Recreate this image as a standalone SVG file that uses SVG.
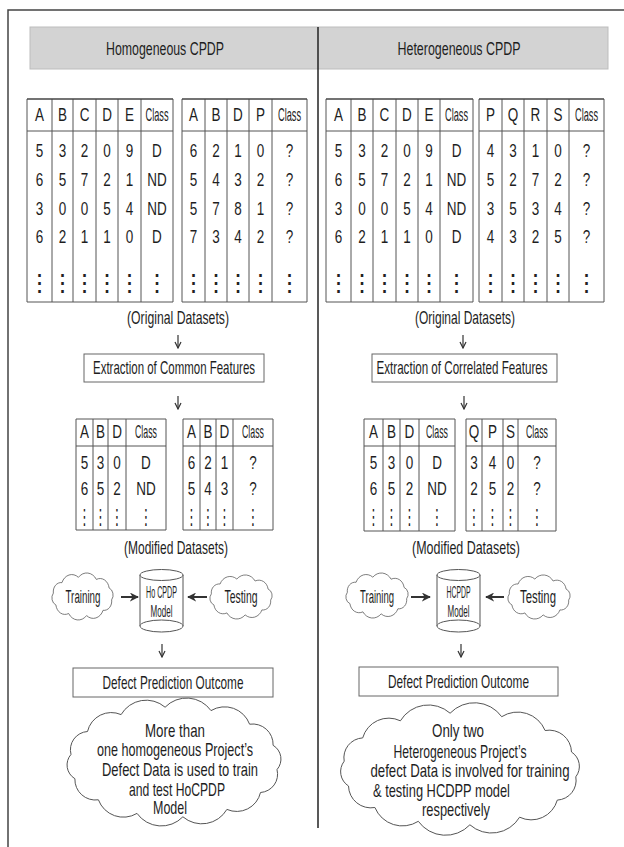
<svg xmlns="http://www.w3.org/2000/svg" xmlns:xlink="http://www.w3.org/1999/xlink" width="624" height="847" viewBox="0 0 624 847">
<style>
.t{font-family:"Liberation Sans",Arial,sans-serif;fill:#1e1e1e;text-anchor:middle}
.f19{font-size:19px}.f18{font-size:18px}.f17{font-size:17px}.f16{font-size:16px}
.dot{font-family:"DejaVu Sans",sans-serif;text-anchor:middle;fill:#222}
.tl{stroke:#555;stroke-width:1;fill:none}
.tt{stroke:#444;stroke-width:1.3;fill:none}
.box{fill:#fff;stroke:#666;stroke-width:1}
.cloud{fill:#fff;stroke:#555;stroke-width:1;vector-effect:non-scaling-stroke}
.bigcloud{fill:#fff;stroke:#555;stroke-width:1}
.conn{stroke:#333;stroke-width:1.2;fill:none}
.connb{stroke:#333;stroke-width:2;fill:none}
.frame{stroke:#444;stroke-width:1.5;fill:none}
</style>
<defs>
<path id="cloudShape" d="M91.4,34 A11,11 0 0 1 79.2,46.5 A15,15 0 0 1 55.8,52.8 A16,16 0 0 1 30.3,50.3 A13,13 0 0 1 12.2,40.1 A9,9 0 0 1 8.6,26 A11,11 0 0 1 20.8,13.5 A15,15 0 0 1 44.2,7.2 A16,16 0 0 1 69.7,9.7 A13,13 0 0 1 87.8,19.9 A9,9 0 0 1 91.4,34 Z"/>
<marker id="av" viewBox="0 0 8 8" refX="7" refY="4" markerWidth="8" markerHeight="8" markerUnits="userSpaceOnUse" orient="auto"><path d="M1,1 L7,4 L1,7" fill="none" stroke="#333" stroke-width="1.2"/></marker>
<marker id="af" viewBox="0 0 10 10" refX="9" refY="5" markerWidth="9" markerHeight="9" markerUnits="userSpaceOnUse" orient="auto"><path d="M0,0 L10,5 L0,10 L3,5 Z" fill="#333"/></marker>
</defs>
<rect width="624" height="847" fill="#fff"/>
<g id="frame">
<path class="frame" d="M8,847 V10 H624"/>
</g>
<g id="header">
<rect x="30" y="27" width="578" height="42" fill="#d3d3d3" stroke="#bdbdbd" stroke-width="1"/>
<text class="t f19" transform="translate(165,55) scale(0.74,1)" textLength="159.5" lengthAdjust="spacingAndGlyphs">Homogeneous CPDP</text>
<text class="t f19" transform="translate(459,55) scale(0.74,1)" textLength="166.2" lengthAdjust="spacingAndGlyphs">Heterogeneous CPDP</text>
</g>
<line id="divider" x1="318" y1="27" x2="318" y2="828" stroke="#222" stroke-width="1.5"/>

<!-- Left original table 1 -->
<g id="ho-src-table">
<path class="tl" d="M27,99 V302 H173 V99 M52,99 V302 M73,99 V302 M96,99 V302 M118,99 V302 M141,99 V302 M27,131 H173"/>
<path class="tt" d="M27,99 H173"/>
<g class="t f18" transform="scale(0.75,1)">
<text x="52.67" y="121">A</text><text x="83.33" y="121">B</text><text x="112.67" y="121">C</text><text x="142.67" y="121">D</text><text x="172.67" y="121">E</text><text x="209.33" y="121" textLength="30.7" lengthAdjust="spacingAndGlyphs">Class</text>
<text x="52.67" y="157">5</text><text x="83.33" y="157">3</text><text x="112.67" y="157">2</text><text x="142.67" y="157">0</text><text x="172.67" y="157">9</text><text x="209.33" y="157">D</text>
<text x="52.67" y="186">6</text><text x="83.33" y="186">5</text><text x="112.67" y="186">7</text><text x="142.67" y="186">2</text><text x="172.67" y="186">1</text><text x="209.33" y="186">ND</text>
<text x="52.67" y="215">3</text><text x="83.33" y="215">0</text><text x="112.67" y="215">0</text><text x="142.67" y="215">5</text><text x="172.67" y="215">4</text><text x="209.33" y="215">ND</text>
<text x="52.67" y="243">6</text><text x="83.33" y="243">2</text><text x="112.67" y="243">1</text><text x="142.67" y="243">1</text><text x="172.67" y="243">0</text><text x="209.33" y="243">D</text>
</g>
<g class="dot" font-size="24">
<text x="39.5" y="291">⋮</text><text x="62.5" y="291">⋮</text><text x="84.5" y="291">⋮</text><text x="107" y="291">⋮</text><text x="129.5" y="291">⋮</text><text x="157" y="291">⋮</text>
</g>
</g>
<!-- Left original table 2 -->
<g id="ho-tgt-table">
<path class="tl" d="M182,99 V302 H307 V99 M205,99 V302 M227,99 V302 M249,99 V302 M272,99 V302 M182,131 H307"/>
<path class="tt" d="M182,99 H307"/>
<g class="t f18" transform="scale(0.75,1)">
<text x="258" y="121">A</text><text x="288" y="121">B</text><text x="317.33" y="121">D</text><text x="347.33" y="121">P</text><text x="386" y="121" textLength="30.7" lengthAdjust="spacingAndGlyphs">Class</text>
<text x="258" y="157">6</text><text x="288" y="157">2</text><text x="317.33" y="157">1</text><text x="347.33" y="157">0</text><text x="386" y="157">?</text>
<text x="258" y="186">5</text><text x="288" y="186">4</text><text x="317.33" y="186">3</text><text x="347.33" y="186">2</text><text x="386" y="186">?</text>
<text x="258" y="215">5</text><text x="288" y="215">7</text><text x="317.33" y="215">8</text><text x="347.33" y="215">1</text><text x="386" y="215">?</text>
<text x="258" y="243">7</text><text x="288" y="243">3</text><text x="317.33" y="243">4</text><text x="347.33" y="243">2</text><text x="386" y="243">?</text>
</g>
<g class="dot" font-size="24">
<text x="193.5" y="291">⋮</text><text x="216" y="291">⋮</text><text x="238" y="291">⋮</text><text x="260.5" y="291">⋮</text><text x="289.5" y="291">⋮</text>
</g>
</g>
<!-- Right original table 1 -->
<g id="he-src-table">
<path class="tl" d="M326,99 V302 H473 V99 M351,99 V302 M373,99 V302 M396,99 V302 M418,99 V302 M440,99 V302 M326,131 H473"/>
<path class="tt" d="M326,99 H473"/>
<g class="t f18" transform="scale(0.75,1)">
<text x="451.33" y="121">A</text><text x="482.67" y="121">B</text><text x="512.67" y="121">C</text><text x="542.67" y="121">D</text><text x="572" y="121">E</text><text x="608.67" y="121" textLength="30.7" lengthAdjust="spacingAndGlyphs">Class</text>
<text x="451.33" y="157">5</text><text x="482.67" y="157">3</text><text x="512.67" y="157">2</text><text x="542.67" y="157">0</text><text x="572" y="157">9</text><text x="608.67" y="157">D</text>
<text x="451.33" y="186">6</text><text x="482.67" y="186">5</text><text x="512.67" y="186">7</text><text x="542.67" y="186">2</text><text x="572" y="186">1</text><text x="608.67" y="186">ND</text>
<text x="451.33" y="215">3</text><text x="482.67" y="215">0</text><text x="512.67" y="215">0</text><text x="542.67" y="215">5</text><text x="572" y="215">4</text><text x="608.67" y="215">ND</text>
<text x="451.33" y="243">6</text><text x="482.67" y="243">2</text><text x="512.67" y="243">1</text><text x="542.67" y="243">1</text><text x="572" y="243">0</text><text x="608.67" y="243">D</text>
</g>
<g class="dot" font-size="24">
<text x="338.5" y="291">⋮</text><text x="362" y="291">⋮</text><text x="384.5" y="291">⋮</text><text x="407" y="291">⋮</text><text x="429" y="291">⋮</text><text x="456.5" y="291">⋮</text>
</g>
</g>
<!-- Right original table 2 -->
<g id="he-tgt-table">
<path class="tl" d="M479,99 V302 H604 V99 M502,99 V302 M524,99 V302 M547,99 V302 M569,99 V302 M479,131 H604"/>
<path class="tt" d="M479,99 H604"/>
<g class="t f18" transform="scale(0.75,1)">
<text x="654" y="121">P</text><text x="684" y="121">Q</text><text x="714" y="121">R</text><text x="744" y="121">S</text><text x="782" y="121" textLength="30.7" lengthAdjust="spacingAndGlyphs">Class</text>
<text x="654" y="157">4</text><text x="684" y="157">3</text><text x="714" y="157">1</text><text x="744" y="157">0</text><text x="782" y="157">?</text>
<text x="654" y="186">5</text><text x="684" y="186">2</text><text x="714" y="186">7</text><text x="744" y="186">2</text><text x="782" y="186">?</text>
<text x="654" y="215">3</text><text x="684" y="215">5</text><text x="714" y="215">3</text><text x="744" y="215">4</text><text x="782" y="215">?</text>
<text x="654" y="243">4</text><text x="684" y="243">3</text><text x="714" y="243">2</text><text x="744" y="243">5</text><text x="782" y="243">?</text>
</g>
<g class="dot" font-size="24">
<text x="490.5" y="291">⋮</text><text x="513" y="291">⋮</text><text x="535.5" y="291">⋮</text><text x="558" y="291">⋮</text><text x="586.5" y="291">⋮</text>
</g>
</g>

<g id="ho-orig-label"><text class="t f18" transform="translate(178,324) scale(0.74,1)" textLength="137.8" lengthAdjust="spacingAndGlyphs">(Original Datasets)</text></g>
<g id="he-orig-label"><text class="t f18" transform="translate(465,324) scale(0.74,1)" textLength="135.1" lengthAdjust="spacingAndGlyphs">(Original Datasets)</text></g>

<g id="ho-extract">
<rect class="box" x="84" y="354" width="180" height="28"/>
<text class="t f18" transform="translate(174,374) scale(0.74,1)" textLength="218.9" lengthAdjust="spacingAndGlyphs">Extraction of Common Features</text>
</g>
<g id="he-extract">
<rect class="box" x="372" y="354" width="185" height="28"/>
<text class="t f18" transform="translate(462,374) scale(0.74,1)" textLength="231.1" lengthAdjust="spacingAndGlyphs">Extraction of Correlated Features</text>
</g>

<!-- Left modified tables -->
<g id="ho-mod-table1">
<path class="tl" d="M76,419 V530 H166 V419 Z M93,419 V530 M108,419 V530 M126,419 V530 M76,446 H166"/>
<g class="t f18" transform="scale(0.75,1)">
<text x="112.67" y="438">A</text><text x="134" y="438">B</text><text x="156" y="438">D</text><text x="194.67" y="438" textLength="29.3" lengthAdjust="spacingAndGlyphs">Class</text>
<text x="112.67" y="469">5</text><text x="134" y="469">3</text><text x="156" y="469">0</text><text x="194.67" y="469">D</text>
<text x="112.67" y="495">6</text><text x="134" y="495">5</text><text x="156" y="495">2</text><text x="194.67" y="495">ND</text>
</g>
<g class="dot" font-size="21" transform="scale(0.6,1)" opacity="0.999">
<text x="140.83" y="524">⋮</text><text x="167.5" y="524">⋮</text><text x="195" y="524">⋮</text><text x="243.33" y="524">⋮</text>
</g>
</g>
<g id="ho-mod-table2">
<path class="tl" d="M183,419 V530 H273 V419 Z M200,419 V530 M216,419 V530 M233,419 V530 M183,446 H273"/>
<g class="t f18" transform="scale(0.75,1)">
<text x="255.33" y="438">A</text><text x="277.33" y="438">B</text><text x="299.33" y="438">D</text><text x="337.33" y="438" textLength="29.3" lengthAdjust="spacingAndGlyphs">Class</text>
<text x="255.33" y="469">6</text><text x="277.33" y="469">2</text><text x="299.33" y="469">1</text><text x="337.33" y="469">?</text>
<text x="255.33" y="495">5</text><text x="277.33" y="495">4</text><text x="299.33" y="495">3</text><text x="337.33" y="495">?</text>
</g>
<g class="dot" font-size="21" transform="scale(0.6,1)" opacity="0.999">
<text x="319.17" y="524">⋮</text><text x="346.67" y="524">⋮</text><text x="374.17" y="524">⋮</text><text x="421.67" y="524">⋮</text>
</g>
</g>
<!-- Right modified tables -->
<g id="he-mod-table1">
<path class="tl" d="M364,419 V531 H455 V419 Z M383,419 V531 M400,419 V531 M419,419 V531 M364,446 H455"/>
<g class="t f18" transform="scale(0.75,1)">
<text x="498" y="438">A</text><text x="522" y="438">B</text><text x="546" y="438">D</text><text x="582.67" y="438" textLength="29.3" lengthAdjust="spacingAndGlyphs">Class</text>
<text x="498" y="469">5</text><text x="522" y="469">3</text><text x="546" y="469">0</text><text x="582.67" y="469">D</text>
<text x="498" y="495">6</text><text x="522" y="495">5</text><text x="546" y="495">2</text><text x="582.67" y="495">ND</text>
</g>
<g class="dot" font-size="21" transform="scale(0.6,1)" opacity="0.999">
<text x="622.5" y="524">⋮</text><text x="652.5" y="524">⋮</text><text x="682.5" y="524">⋮</text><text x="728.33" y="524">⋮</text>
</g>
</g>
<g id="he-mod-table2">
<path class="tl" d="M466,419 V531 H556 V419 Z M482,419 V531 M503,419 V531 M518,419 V531 M466,446 H556"/>
<g class="t f18" transform="scale(0.75,1)">
<text x="632" y="438">Q</text><text x="656.67" y="438">P</text><text x="680.67" y="438">S</text><text x="716" y="438" textLength="29.3" lengthAdjust="spacingAndGlyphs">Class</text>
<text x="632" y="469">3</text><text x="656.67" y="469">4</text><text x="680.67" y="469">0</text><text x="716" y="469">?</text>
<text x="632" y="495">2</text><text x="656.67" y="495">5</text><text x="680.67" y="495">2</text><text x="716" y="495">?</text>
</g>
<g class="dot" font-size="21" transform="scale(0.6,1)" opacity="0.999">
<text x="790" y="524">⋮</text><text x="820.83" y="524">⋮</text><text x="850.83" y="524">⋮</text><text x="895" y="524">⋮</text>
</g>
</g>

<g id="ho-mod-label"><text class="t f18" transform="translate(176,554) scale(0.74,1)" textLength="140.5" lengthAdjust="spacingAndGlyphs">(Modified Datasets)</text></g>
<g id="he-mod-label"><text class="t f18" transform="translate(466,554) scale(0.74,1)" textLength="145.9" lengthAdjust="spacingAndGlyphs">(Modified Datasets)</text></g>

<!-- Training / testing clouds -->
<g id="ho-training">
<use xlink:href="#cloudShape" class="cloud" transform="translate(47.3,571.3) scale(0.704,0.839)"/>
<text class="t f18" transform="translate(83,603) scale(0.74,1)" textLength="47.3" lengthAdjust="spacingAndGlyphs">Training</text>
</g>
<g id="ho-testing">
<use xlink:href="#cloudShape" class="cloud" transform="translate(205.2,573.4) scale(0.716,0.786)"/>
<text class="t f18" transform="translate(241,603) scale(0.74,1)" textLength="44.6" lengthAdjust="spacingAndGlyphs">Testing</text>
</g>
<g id="he-training">
<use xlink:href="#cloudShape" class="cloud" transform="translate(341.2,571.4) scale(0.716,0.804)"/>
<text class="t f18" transform="translate(377,603) scale(0.74,1)" textLength="45.9" lengthAdjust="spacingAndGlyphs">Training</text>
</g>
<g id="he-testing">
<use xlink:href="#cloudShape" class="cloud" transform="translate(503.2,573.4) scale(0.716,0.786)"/>
<text class="t f18" transform="translate(538,603) scale(0.74,1)" textLength="48.6" lengthAdjust="spacingAndGlyphs">Testing</text>
</g>

<!-- Models (cylinders) -->
<g id="ho-model">
<rect x="140" y="575" width="43" height="51" fill="#fff"/>
<path d="M140,575 V626 M183,575 V626" stroke="#555" stroke-width="1" fill="none"/>
<ellipse cx="161.5" cy="626" rx="21.5" ry="6" fill="#fff" stroke="#555" stroke-width="1"/>
<ellipse cx="161.5" cy="575" rx="21.5" ry="5.5" fill="#fff" stroke="#555" stroke-width="1"/>
<text class="t f16" transform="translate(161.5,598) scale(0.7,1)" textLength="44.3" lengthAdjust="spacingAndGlyphs">Ho CPDP</text>
<text class="t f16" transform="translate(161.5,617) scale(0.7,1)" textLength="31.4" lengthAdjust="spacingAndGlyphs">Model</text>
</g>
<g id="he-model">
<rect x="437" y="575" width="43" height="51" fill="#fff"/>
<path d="M437,575 V626 M480,575 V626" stroke="#555" stroke-width="1" fill="none"/>
<ellipse cx="458.5" cy="626" rx="21.5" ry="6" fill="#fff" stroke="#555" stroke-width="1"/>
<ellipse cx="458.5" cy="575" rx="21.5" ry="5.5" fill="#fff" stroke="#555" stroke-width="1"/>
<text class="t f16" transform="translate(458.5,598) scale(0.7,1)" textLength="34.3" lengthAdjust="spacingAndGlyphs">HCPDP</text>
<text class="t f16" transform="translate(458.5,617) scale(0.7,1)" textLength="31.4" lengthAdjust="spacingAndGlyphs">Model</text>
</g>

<g id="ho-outcome">
<rect class="box" x="73" y="668" width="200" height="29"/>
<text class="t f18" transform="translate(173,689) scale(0.74,1)" textLength="190.5" lengthAdjust="spacingAndGlyphs">Defect Prediction Outcome</text>
</g>
<g id="he-outcome">
<rect class="box" x="359" y="667" width="199" height="29"/>
<text class="t f18" transform="translate(458.5,688) scale(0.74,1)" textLength="190.5" lengthAdjust="spacingAndGlyphs">Defect Prediction Outcome</text>
</g>

<g id="ho-note">
<path class="bigcloud" d="M277.0,769.6 A18.3,18.3 0 0 1 260.5,792.5 A24.4,24.4 0 0 1 226.9,809.4 A29,29 0 0 1 182.9,816.8 A29.9,29.9 0 0 1 137.0,813.4 A26.6,26.6 0 0 1 98.4,799.8 A20.5,20.5 0 0 1 74.9,778.7 A16,16 0 0 1 71.0,754.4 A18.3,18.3 0 0 1 87.5,731.5 A24.4,24.4 0 0 1 121.1,714.6 A29,29 0 0 1 165.1,707.2 A29.9,29.9 0 0 1 211.0,710.6 A26.6,26.6 0 0 1 249.6,724.2 A20.5,20.5 0 0 1 273.1,745.3 A16,16 0 0 1 277.0,769.6 Z"/>
<g class="t f18">
<text transform="translate(175,737) scale(0.74,1)" textLength="81.1" lengthAdjust="spacingAndGlyphs">More than</text>
<text transform="translate(175,756) scale(0.74,1)" textLength="210.8" lengthAdjust="spacingAndGlyphs">one homogeneous Project’s</text>
<text transform="translate(180,776) scale(0.74,1)" textLength="210.8" lengthAdjust="spacingAndGlyphs">Defect Data is used to train</text>
<text transform="translate(177,796) scale(0.74,1)" textLength="129.7" lengthAdjust="spacingAndGlyphs">and test HoCPDP</text>
<text transform="translate(170,814) scale(0.74,1)" textLength="45.9" lengthAdjust="spacingAndGlyphs">Model</text>
</g>
</g>
<g id="he-note">
<path class="bigcloud" d="M575.8,776.8 A19.8,19.8 0 0 1 557.3,800.1 A27,27 0 0 1 519.6,817.2 A32.7,32.7 0 0 1 469.9,824.8 A33.6,33.6 0 0 1 418.3,821.3 A29.7,29.7 0 0 1 374.9,807.5 A22.4,22.4 0 0 1 348.5,786.0 A17,17 0 0 1 344.2,761.2 A19.8,19.8 0 0 1 362.7,737.9 A27,27 0 0 1 400.4,720.8 A32.7,32.7 0 0 1 450.1,713.2 A33.6,33.6 0 0 1 501.7,716.7 A29.7,29.7 0 0 1 545.1,730.5 A22.4,22.4 0 0 1 571.5,752.0 A17,17 0 0 1 575.8,776.8 Z"/>
<g class="t f18">
<text transform="translate(458,737) scale(0.74,1)" textLength="70.3" lengthAdjust="spacingAndGlyphs">Only two</text>
<text transform="translate(460,758) scale(0.74,1)" textLength="179.7" lengthAdjust="spacingAndGlyphs">Heterogeneous Project’s</text>
<text transform="translate(470,777) scale(0.74,1)" textLength="268.9" lengthAdjust="spacingAndGlyphs">defect Data is involved for training</text>
<text transform="translate(373,797) scale(0.74,1)" textLength="185.1" lengthAdjust="spacingAndGlyphs" style="text-anchor:start">&amp; testing HCDPP model</text>
<text transform="translate(456,816) scale(0.74,1)" textLength="91.9" lengthAdjust="spacingAndGlyphs">respectively</text>
</g>
</g>

<g id="connectors">
<line class="conn" x1="178" y1="335" x2="178" y2="348" marker-end="url(#av)"/>
<line class="conn" x1="178" y1="396" x2="178" y2="409" marker-end="url(#av)"/>
<line class="conn" x1="162" y1="644" x2="162" y2="657" marker-end="url(#av)"/>
<line class="conn" x1="463" y1="335" x2="463" y2="348" marker-end="url(#av)"/>
<line class="conn" x1="464" y1="396" x2="464" y2="409" marker-end="url(#av)"/>
<line class="conn" x1="461" y1="644" x2="461" y2="657" marker-end="url(#av)"/>
<line class="connb" x1="121" y1="597" x2="138" y2="597" marker-end="url(#af)"/>
<line class="connb" x1="207" y1="597" x2="188" y2="597" marker-end="url(#af)"/>
<line class="connb" x1="411" y1="597" x2="430" y2="597" marker-end="url(#af)"/>
<line class="connb" x1="504" y1="597" x2="486" y2="597" marker-end="url(#af)"/>
</g>
</svg>
